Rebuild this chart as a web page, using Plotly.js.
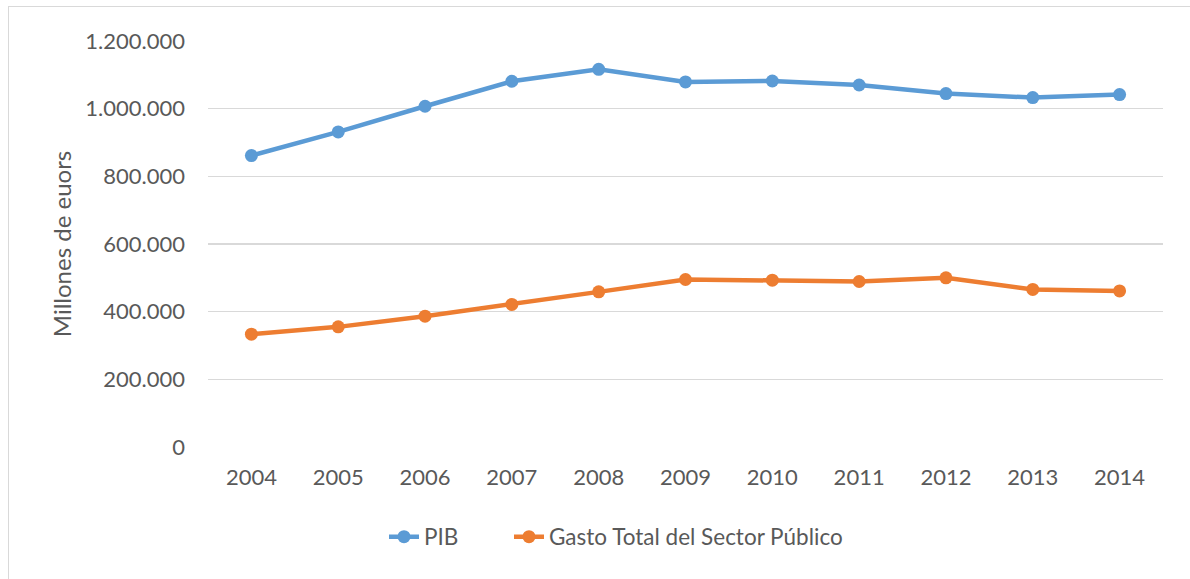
<!DOCTYPE html>
<html>
<head>
<meta charset="utf-8">
<script src="https://cdn.plot.ly/plotly-3.0.1.min.js"></script>
<style>
  html, body { margin: 0; padding: 0; background: #ffffff; }
  #wrap { position: relative; width: 1190px; height: 579px; overflow: hidden; }
  #chart { position: absolute; left: 0; top: 0; width: 1190px; height: 579px; }
  #frame { position: absolute; left: 8px; top: 6px; width: 1200px; height: 600px;
           border-left: 1px solid #d9d9d9; border-top: 1px solid #d9d9d9; pointer-events: none; }
</style>
</head>
<body>
<div id="wrap">
  <div id="chart"></div>
  <div id="frame"></div>
</div>
<script>
const years = ["2004","2005","2006","2007","2008","2009","2010","2011","2012","2013","2014"];
const pib = [861400, 931200, 1007100, 1081000, 1116400, 1078900, 1081800, 1070000, 1044600, 1032800, 1041600];
const gasto = [333500, 355100, 386700, 421300, 458500, 495100, 493100, 489200, 499900, 465600, 461400];
const seriesNames = ["PIB", "Gasto Total del Sector Público"];
const yTitle = "Millones de euors";

const FONT = "Lato, 'Open Sans', sans-serif";
const TXT = "#595959";

const traces = [
  {
    x: years, y: pib, name: seriesNames[0], type: "scatter", mode: "lines+markers",
    line: { color: "#5b9bd5", width: 4.5 },
    marker: { color: "#5b9bd5", size: 13 },
    legend: "legend"
  },
  {
    x: years, y: gasto, name: seriesNames[1], type: "scatter", mode: "lines+markers",
    line: { color: "#ed7d31", width: 4.5 },
    marker: { color: "#ed7d31", size: 13 },
    legend: "legend2"
  }
];

const legendBase = {
  orientation: "h",
  xref: "container", yref: "container",
  xanchor: "left",
  y: 1 - 537 / 579, yanchor: "middle",
  font: { family: FONT, size: 22.5, color: TXT },
  bgcolor: "rgba(0,0,0,0)"
};

const layout = {
  width: 1190, height: 579,
  margin: { l: 208, r: 27, t: 41, b: 132 },
  paper_bgcolor: "rgba(0,0,0,0)",
  plot_bgcolor: "rgba(0,0,0,0)",
  separators: ",.",
  font: { family: FONT, size: 22, color: TXT },
  showlegend: true,
  legend: Object.assign({}, legendBase, { x: 384 / 1190 }),
  legend2: Object.assign({}, legendBase, { x: 509 / 1190 }),
  xaxis: {
    type: "category",
    range: [-0.5, 10.5],
    showgrid: false, zeroline: false, showline: false,
    ticks: "",
    ticklabelstandoff: 15,
    tickfont: { family: FONT, size: 22, color: TXT }
  },
  yaxis: {
    range: [0, 1200000],
    dtick: 200000,
    tickformat: ",d",
    showgrid: true, gridcolor: "#d9d9d9", gridwidth: 1.3,
    zeroline: false, showline: false,
    ticks: "",
    ticklabelstandoff: 22,
    tickfont: { family: FONT, size: 22, color: TXT },
    title: { text: yTitle, standoff: 6, font: { family: FONT, size: 24, color: TXT } }
  }
};

Plotly.newPlot("chart", traces, layout, { displayModeBar: false, staticPlot: true });
</script>
</body>
</html>
